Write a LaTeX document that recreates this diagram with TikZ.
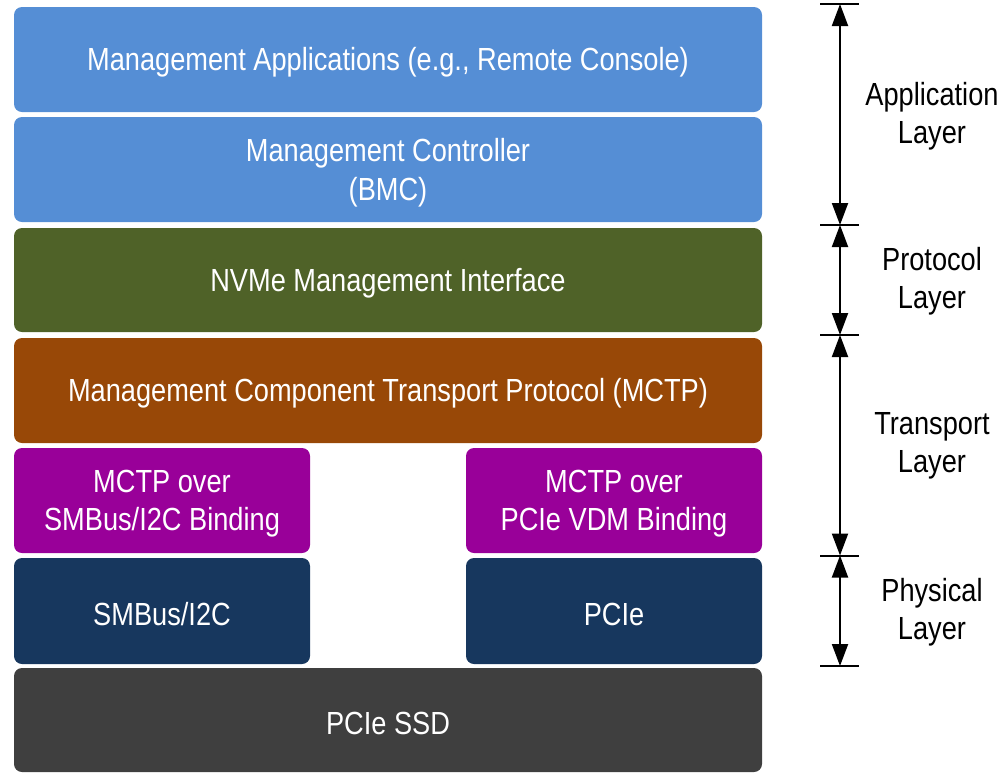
\documentclass[tikz,border=0pt]{standalone}
\usepackage{fontspec}
\setmainfont[FakeStretch=0.85]{Liberation Sans}
\usetikzlibrary{arrows.meta}
\definecolor{cblue}{HTML}{558ED5}
\definecolor{cgreen}{HTML}{4F6228}
\definecolor{corange}{HTML}{984807}
\definecolor{cpurple}{HTML}{990099}
\definecolor{cnavy}{HTML}{17375E}
\definecolor{cgray}{HTML}{3F3F3F}
\begin{document}
\begin{tikzpicture}[x=1pt,y=-1pt,
  boxtext/.style={text=white, align=center, inner sep=0pt, yshift=-3pt,
    font=\fontsize{32}{38.5}\selectfont},
  box/.style={rounded corners=8pt, inner sep=0pt},
  wide/.style={box, minimum width=748pt},
  half/.style={box, minimum width=296pt},
  lbl/.style={align=center, font=\fontsize{32}{38.5}\selectfont},
  span/.style={line width=2pt, {Triangle[length=22pt,width=16pt]}-{Triangle[length=22pt,width=16pt]}},
  tick/.style={line width=2pt}]
\useasboundingbox (0,0) rectangle (1003,772);
\node[wide, fill=cblue, minimum height=105pt, label={[boxtext]center:{Management Applications (e.g., Remote Console)}}] (app) at (388,59.5) {};
\node[wide, fill=cblue, minimum height=105pt, label={[boxtext]center:{Management Controller\\(BMC)}}] (bmc) at (388,169.5) {};
\node[wide, fill=cgreen, minimum height=104pt, label={[boxtext]center:{NVMe Management Interface}}] (nvme) at (388,280) {};
\node[wide, fill=corange, minimum height=105pt, label={[boxtext]center:{Management Component Transport Protocol (MCTP)}}] (mctp) at (388,390.5) {};
\node[half, fill=cpurple, minimum height=105pt, label={[boxtext]center:{MCTP over\\SMBus/I2C Binding}}] (smb) at (162,500.5) {};
\node[half, fill=cpurple, minimum height=105pt, label={[boxtext]center:{MCTP over\\PCIe VDM Binding}}] (vdm) at (614,500.5) {};
\node[half, fill=cnavy, minimum height=106pt, label={[boxtext]center:{SMBus/I2C}}] (i2c) at (162,611) {};
\node[half, fill=cnavy, minimum height=106pt, label={[boxtext]center:{PCIe}}] (pcie) at (614,611) {};
\node[wide, fill=cgray, minimum height=104pt, label={[boxtext]center:{PCIe SSD}}] (ssd) at (388,720) {};
\coordinate (t1) at (840,4);
\coordinate (t2) at (840,225);
\coordinate (t3) at (840,335);
\coordinate (t4) at (840,555.5);
\coordinate (t5) at (840,666);
\foreach \t in {t1,t2,t3,t4,t5}{\draw[tick] ([xshift=-20pt]\t) -- ([xshift=19pt]\t);}
\draw[span] (t1) -- (t2);
\draw[span] (t2) -- (t3);
\draw[span] (t3) -- (t4);
\draw[span] (t4) -- (t5);
\node[lbl] (la) at (932,116) {Application\\Layer};
\node[lbl] (lp) at (932,281) {Protocol\\Layer};
\node[lbl] (lt) at (932,446) {Transport\\Layer};
\node[lbl] (lph) at (932,612) {Physical\\Layer};
\end{tikzpicture}
\end{document}
